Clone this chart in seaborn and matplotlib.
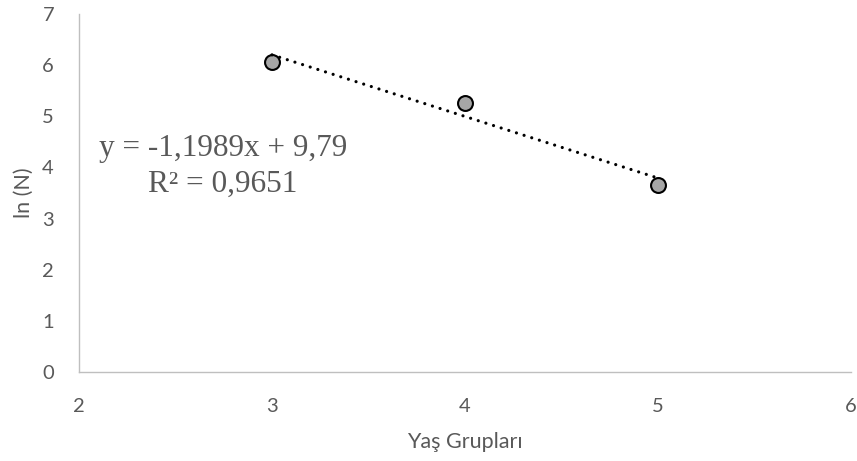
import numpy as np
import pandas as pd
import matplotlib
matplotlib.use('Agg')
import matplotlib.pyplot as plt
import seaborn as sns

# data
yas_gruplari = [3, 4, 5]
ln_n = [6.07, 5.26, 3.66]
x_ticks = [2, 3, 4, 5, 6]
y_ticks = [0, 1, 2, 3, 4, 5, 6, 7]
equation_text = "y = -1,1989x + 9,79\nR² = 0,9651"

df = pd.DataFrame({'Yaş Grupları': yas_gruplari, 'ln (N)': ln_n})

sns.set_style('white')
plt.rcParams['font.family'] = ['Lato', 'DejaVu Sans']

grey_text = '#595959'
axis_grey = '#bfbfbf'

fig = plt.figure(figsize=(8.57, 4.61), dpi=100)
ax = fig.add_axes([79 / 857, 1 - 372 / 461, (851 - 79) / 857, (372 - 14) / 461])

# markers
sns.scatterplot(data=df, x='Yaş Grupları', y='ln (N)', ax=ax, s=115,
                color='#a6a6a6', edgecolor='black', linewidth=1.5, zorder=2)

# linear trendline (dotted)
sns.regplot(data=df, x='Yaş Grupları', y='ln (N)', ax=ax, scatter=False, ci=None,
            truncate=True,
            line_kws=dict(color='black', linewidth=2.3, linestyle=(0, (0.01, 2.5)),
                          dash_capstyle='round', zorder=3))

ax.text(2.745, 4.02, equation_text, ha='center', va='center', multialignment='center',
        fontsize=22.5, color=grey_text, family=['Liberation Serif', 'DejaVu Serif'],
        linespacing=1.32)

ax.set_xlim(2, 6)
ax.set_ylim(0, 7)
ax.set_xticks(x_ticks)
ax.set_yticks(y_ticks)
ax.tick_params(axis='both', length=0, labelsize=14.5, labelcolor=grey_text)
ax.tick_params(axis='x', pad=19)
ax.tick_params(axis='y', pad=18)

ax.set_xlabel('Yaş Grupları', fontsize=15.5, color=grey_text, labelpad=12)
ax.set_ylabel('ln (N)', fontsize=15.5, color=grey_text, labelpad=6)

for side in ['top', 'right']:
    ax.spines[side].set_visible(False)
for side in ['left', 'bottom']:
    ax.spines[side].set_color(axis_grey)
    ax.spines[side].set_linewidth(1.0)

fig.savefig('out.png', dpi=100)
